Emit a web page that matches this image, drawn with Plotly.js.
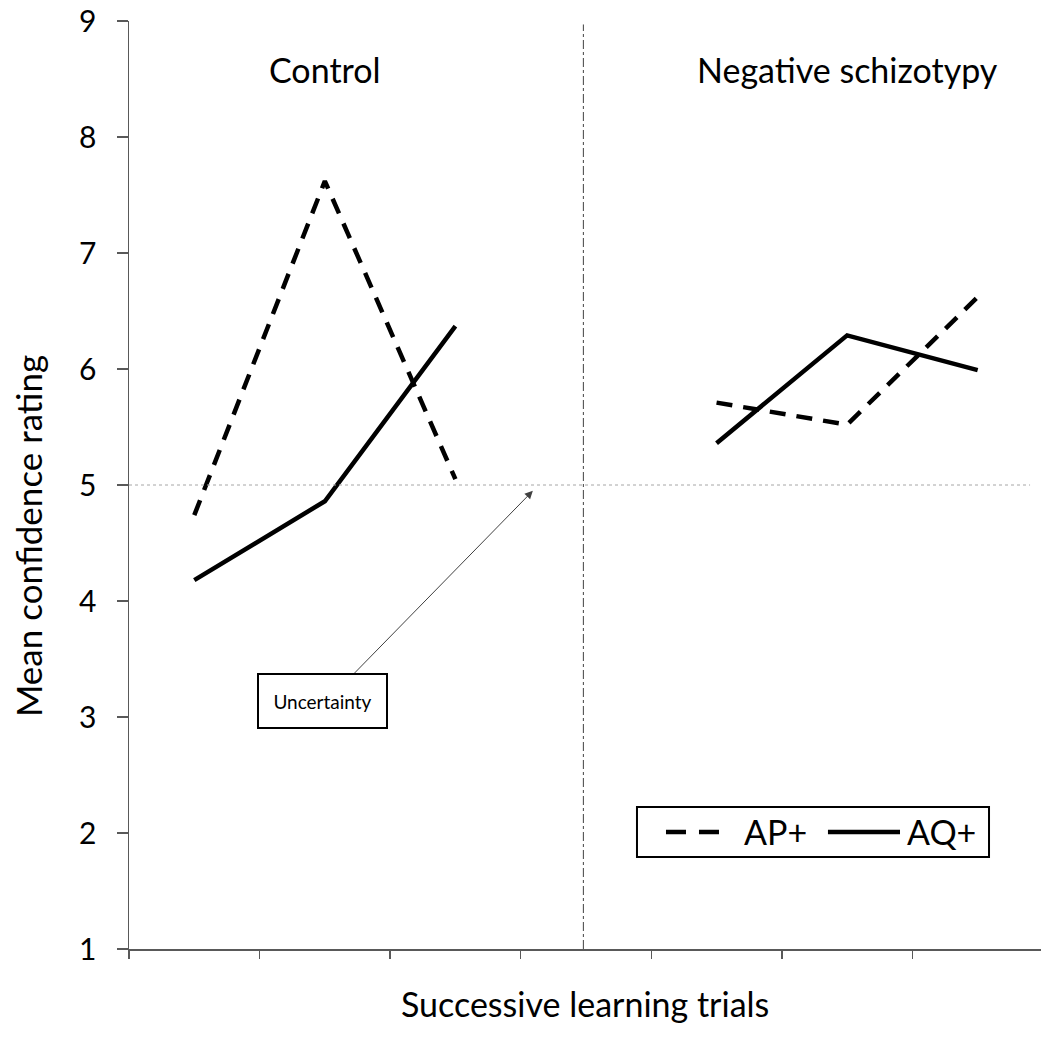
<!DOCTYPE html>
<html>
<head>
<meta charset="utf-8">
<script src="https://cdn.plot.ly/plotly-3.0.1.min.js"></script>
<style>html,body{margin:0;padding:0;background:#fff;overflow:hidden}</style>
</head>
<body>
<div id="chart" style="width:1041px;height:1048px"></div>
<script>
// Successive learning trials (category positions; slot 3 is the gap between groups)
var trialsControl = [0, 1, 2];
var trialsNegative = [4, 5, 6];
var groupLabels = ["Control", "Negative schizotypy"];
var seriesNames = ["AP+", "AQ+"];

// Mean confidence ratings
var controlAP = [4.74, 7.62, 5.05];
var controlAQ = [4.18, 4.86, 6.37];
var negativeAP = [5.71, 5.52, 6.62];
var negativeAQ = [5.36, 6.29, 5.99];

var yTicks = [1, 2, 3, 4, 5, 6, 7, 8, 9];
var xTicks = [-0.5, 0.5, 1.5, 2.5, 3.5, 4.5, 5.5, 6.5];
var uncertaintyLevel = 5;

var FONT = "Lato, 'Open Sans', sans-serif";
var dashAP = "16px,11px";
var legendDash = "20px,13px";

var traces = [
  {x: trialsControl, y: controlAP, name: seriesNames[0], showlegend: false,
   mode: "lines", line: {color: "#000", width: 4.5, dash: dashAP}},
  {x: trialsControl, y: controlAQ, name: seriesNames[1], showlegend: false,
   mode: "lines", line: {color: "#000", width: 4.5}},
  {x: trialsNegative, y: negativeAP, name: seriesNames[0], showlegend: false,
   mode: "lines", line: {color: "#000", width: 4.5, dash: dashAP}},
  {x: trialsNegative, y: negativeAQ, name: seriesNames[1], showlegend: false,
   mode: "lines", line: {color: "#000", width: 4.5}}
];

var layout = {
  width: 1041, height: 1048,
  margin: {l: 129, r: 0, t: 21, b: 99},
  paper_bgcolor: "#fff", plot_bgcolor: "#fff",
  font: {family: FONT, color: "#000"},
  showlegend: false,
  xaxis: {
    range: [-0.5, 6.485], tickmode: "array", tickvals: xTicks, showticklabels: false,
    ticks: "outside", ticklen: 8, tickwidth: 1.5, tickcolor: "#595959",
    showline: true, linecolor: "#595959", linewidth: 1.5, showgrid: false, zeroline: false,
    automargin: false
  },
  yaxis: {
    range: [1, 9], tickmode: "array", tickvals: yTicks,
    ticks: "outside", ticklen: 11, tickwidth: 1.5, tickcolor: "#595959",
    showline: true, linecolor: "#595959", linewidth: 1.5, showgrid: false, zeroline: false,
    tickfont: {family: FONT, size: 30, color: "#000"}, ticklabelstandoff: 14,
    automargin: false
  },
  shapes: [
    {type: "line", xref: "paper", x0: 0, x1: 0.988, yref: "y", y0: uncertaintyLevel, y1: uncertaintyLevel,
     line: {color: "#a6a6a6", width: 1, dash: "dot"}},
    {type: "line", xref: "x", x0: 2.98, x1: 2.98, yref: "y", y0: 1, y1: 8.97,
     line: {color: "#404040", width: 1, dash: "dashdot"}},
    // legend box and samples
    {type: "rect", xref: "paper", yref: "paper", x0: 0.557, x1: 0.943, y0: 0.0991, y1: 0.153,
     line: {color: "#000", width: 2}, fillcolor: "#fff"},
    {type: "line", xref: "paper", yref: "paper", x0: 0.5888, x1: 0.6480, y0: 0.1261, y1: 0.1261,
     line: {color: "#000", width: 4.5, dash: legendDash}},
    {type: "line", xref: "paper", yref: "paper", x0: 0.7664, x1: 0.8454, y0: 0.1261, y1: 0.1261,
     line: {color: "#000", width: 4.5}}
  ],
  annotations: [
    {text: groupLabels[0], x: trialsControl[1], y: 8.58, xref: "x", yref: "y", showarrow: false,
     font: {family: FONT, size: 34, color: "#000"}},
    {text: groupLabels[1], x: trialsNegative[1], y: 8.58, xref: "x", yref: "y", showarrow: false,
     font: {family: FONT, size: 34, color: "#000"}},
    {text: "", x: 2.593, y: 4.95, xref: "x", yref: "y", showarrow: true, ax: -180, ay: 184,
     arrowhead: 2, arrowsize: 1.6, arrowwidth: 1, arrowcolor: "#404040", standoff: 0},
    {text: "Uncertainty", x: 0.98, y: 3.14, xref: "x", yref: "y", showarrow: false,
     width: 125, height: 50, bordercolor: "#000", borderwidth: 2, bgcolor: "#fff",
     font: {family: FONT, size: 19, color: "#000"}},
    {text: seriesNames[0], x: 0.6721, y: 0.1261, xref: "paper", yref: "paper", xanchor: "left", yanchor: "middle",
     showarrow: false, font: {family: FONT, size: 34, color: "#000"}},
    {text: seriesNames[1], x: 0.8509, y: 0.1261, xref: "paper", yref: "paper", xanchor: "left", yanchor: "middle",
     showarrow: false, font: {family: FONT, size: 34, color: "#000"}},
    {text: "Successive learning trials", x: 0.5005, y: -0.0582, xref: "paper", yref: "paper",
     xanchor: "center", yanchor: "middle", showarrow: false, font: {family: FONT, size: 34, color: "#000"}},
    {text: "Mean confidence rating", x: -0.1107, y: 0.445, xref: "paper", yref: "paper", textangle: -90,
     xanchor: "center", yanchor: "middle", showarrow: false, font: {family: FONT, size: 35, color: "#000"}}
  ]
};

Plotly.newPlot("chart", traces, layout, {displayModeBar: false, staticPlot: true});
</script>
</body>
</html>
